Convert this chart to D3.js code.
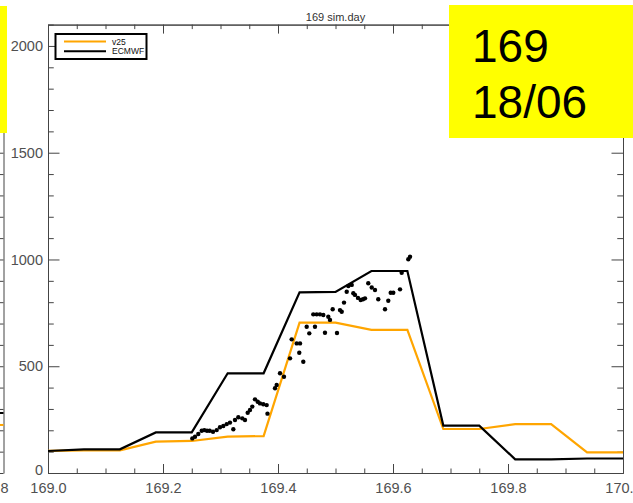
<!DOCTYPE html>
<html>
<head>
<meta charset="utf-8">
<script src="https://cdn.jsdelivr.net/npm/d3@7"></script>
<style>
  body { margin: 0; background: #fff; }
  svg { display: block; }
  text { font-family: "Liberation Sans", Arial, sans-serif; }
</style>
</head>
<body>
<svg id="chart" width="633" height="503"></svg>
<script>
// Day of year and date shown in the badge
const simDay = "169";
const dateLabel = "18/06";
const titleText = "169 sim.day";

// Model output times (fraction of day, 1.5 h steps)
const stepTimes = [169.0, 169.0625, 169.125, 169.1875, 169.25, 169.3125, 169.375, 169.4375,
                   169.5, 169.5625, 169.625, 169.6875, 169.75, 169.8125, 169.875, 169.9375, 170.0];
const v25Values   = [104, 106, 106, 147, 150, 170, 173, 704, 704, 670, 670, 206, 206, 229, 229, 97, 97];
const ecmwfValues = [103, 111, 111, 190, 190, 467, 467, 846, 848, 946, 946, 222, 222, 64, 64, 68, 68];

// Observed values
const obsTimes = [169.2510,169.2557,169.2614,169.2673,169.2718,169.2765,169.2812,169.2870,169.2934,169.2991,
                  169.3049,169.3108,169.3165,169.3223,169.3252,169.3310,169.3379,169.3426,169.3473,169.3513,
                  169.3553,169.3600,169.3647,169.3687,169.3744,169.3803,169.3817,169.3948,169.3977,169.4035,
                  169.4104,169.4209,169.4238,169.4325,169.4370,169.4383,169.4440,169.4499,169.4544,169.4614,
                  169.4643,169.4673,169.4730,169.4788,169.4817,169.4875,169.4904,169.4951,169.5026,169.5078,
                  169.5108,169.5148,169.5195,169.5223,169.5282,169.5310,169.5339,169.5391,169.5438,169.5478,
                  169.5513,169.5570,169.5630,169.5687,169.5744,169.5861,169.5918,169.5960,169.6005,169.6122,
                  169.6151,169.6266,169.6296];
const obsValues = [162,170,183,198,201,198,198,193,201,214,
                   220,229,236,205,248,261,256,248,282,295,
                   311,345,334,326,322,318,278,397,412,467,
                   451,537,626,607,563,607,521,685,654,743,
                   685,743,743,740,657,732,717,767,656,763,
                   755,798,849,876,881,842,834,820,810,814,
                   818,889,869,857,814,767,807,844,844,860,
                   938,1001,1013];

// Axis ticks
const xMajorTicks = [169.0, 169.2, 169.4, 169.6, 169.8, 170.0];
const xMinorTicks = [169.05, 169.1, 169.15, 169.25, 169.3, 169.35, 169.45, 169.5, 169.55,
                     169.65, 169.7, 169.75, 169.85, 169.9, 169.95];
const yMajorTicks = [0, 500, 1000, 1500, 2000];
const yMinorTicks = [100, 200, 300, 400, 600, 700, 800, 900, 1100, 1200, 1300, 1400,
                     1600, 1700, 1800, 1900, 2100];

// Legend entries
const legendNames = ["v25", "ECMWF"];
const legendColors = ["#FFA500", "#000000"];

// Edge of the previous day's panel, partly in view on the left
const prevPanelLineEnds = [281, 225];
const prevPanelColors = ["#000000", "#FFA500"];
const prevPanelLabel = "8";

const svg = d3.select("#chart");
const W = 633, H = 503;
const m = { left: 48, right: 623, top: 24.6, bottom: 473 };

const x = d3.scaleLinear().domain([169, 170]).range([m.left, m.right]);
const y = d3.scaleLinear().domain([0, 2100]).range([m.bottom, m.top]);

const axisColor = "#444";
const labelColor = "#505050";

function styleAxis(g) {
  g.selectAll("path, line").attr("stroke", axisColor).attr("stroke-width", 1);
  g.selectAll("text").attr("fill", labelColor).attr("font-size", 14.5)
    .attr("font-family", "'Liberation Sans', Arial, sans-serif");
}

// Previous panel: right frame line with inward ticks, and its line ends
const prev = svg.append("g");
prev.append("g")
  .attr("transform", "translate(3.5,0)")
  .call(d3.axisLeft(y).tickValues(d3.merge([yMajorTicks, yMinorTicks])).tickSize(4).tickSizeOuter(0).tickFormat(""))
  .call(styleAxis);
prev.selectAll("line.pend")
  .data(prevPanelLineEnds)
  .join("line")
  .attr("x1", 0).attr("x2", 3.5)
  .attr("y1", d => y(d)).attr("y2", d => y(d))
  .attr("stroke", (d, i) => prevPanelColors[i]).attr("stroke-width", 2);
prev.append("text")
  .attr("x", 8.5).attr("y", 493.3)
  .attr("text-anchor", "end")
  .attr("font-size", 14.5).attr("fill", labelColor)
  .text(prevPanelLabel);
prev.append("rect")
  .attr("x", 0).attr("y", 6).attr("width", 7).attr("height", 127)
  .attr("fill", "#FFFF00");

// Axes: major and minor ticks on all four sides, pointing inward
const gx = svg.append("g").attr("transform", `translate(0,${m.bottom})`);
gx.call(d3.axisBottom(x).tickValues(xMajorTicks).tickSize(-9).tickSizeOuter(0)
  .tickPadding(10).tickFormat(d3.format(".1f")))
  .call(styleAxis);
gx.append("g").call(d3.axisBottom(x).tickValues(xMinorTicks).tickSize(-4.5).tickSizeOuter(0).tickFormat(""))
  .call(styleAxis);

const gt = svg.append("g").attr("transform", `translate(0,${m.top})`);
gt.call(d3.axisTop(x).tickValues(xMajorTicks).tickSize(-9).tickSizeOuter(0).tickFormat(""))
  .call(styleAxis);
gt.append("g").call(d3.axisTop(x).tickValues(xMinorTicks).tickSize(-4.5).tickSizeOuter(0).tickFormat(""))
  .call(styleAxis);

const gy = svg.append("g").attr("transform", `translate(${m.left},0)`);
gy.call(d3.axisLeft(y).tickValues(yMajorTicks).tickSize(-11.5).tickSizeOuter(0).tickPadding(5).tickFormat(d3.format("d")))
  .call(styleAxis);
gy.selectAll(".tick text").filter(d => d === 0).attr("dy", "0.1em");
gy.append("g").call(d3.axisLeft(y).tickValues(yMinorTicks).tickSize(-5.75).tickSizeOuter(0).tickFormat(""))
  .call(styleAxis);

const gr = svg.append("g").attr("transform", `translate(${m.right},0)`);
gr.call(d3.axisRight(y).tickValues(yMajorTicks).tickSize(-11.5).tickSizeOuter(0).tickFormat(""))
  .call(styleAxis);
gr.append("g").call(d3.axisRight(y).tickValues(yMinorTicks).tickSize(-5.75).tickSizeOuter(0).tickFormat(""))
  .call(styleAxis);

// Title
svg.append("text")
  .attr("x", (m.left + m.right) / 2).attr("y", 20.5)
  .attr("text-anchor", "middle")
  .attr("font-size", 11).attr("fill", "#333")
  .text(titleText);

// Model lines
const line = d3.line().x(d => x(d[0])).y(d => y(d[1]));
const series = [
  { values: v25Values, color: "#FFA500" },
  { values: ecmwfValues, color: "#000000" }
];
svg.append("g").selectAll("path")
  .data(series)
  .join("path")
  .attr("d", s => line(stepTimes.map((t, i) => [t, s.values[i]])))
  .attr("fill", "none")
  .attr("stroke", s => s.color)
  .attr("stroke-width", 2.2)
  .attr("stroke-linejoin", "miter");

// Observations
svg.append("g").selectAll("circle")
  .data(obsTimes.map((t, i) => [t, obsValues[i]]))
  .join("circle")
  .attr("cx", d => x(d[0]))
  .attr("cy", d => y(d[1]))
  .attr("r", 2.2)
  .attr("fill", "#000");

// Legend
const lg = svg.append("g");
lg.append("rect")
  .attr("x", 55.5).attr("y", 34).attr("width", 91).attr("height", 25)
  .attr("fill", "#fff").attr("stroke", "#000").attr("stroke-width", 2);
legendNames.forEach((name, i) => {
  const ly = 41.5 + i * 9.7;
  lg.append("line")
    .attr("x1", 64).attr("x2", 106).attr("y1", ly).attr("y2", ly)
    .attr("stroke", legendColors[i]).attr("stroke-width", 2);
  lg.append("text")
    .attr("x", 112).attr("y", ly + 3)
    .attr("font-size", 8.5).attr("fill", "#111")
    .text(name);
});

// Day badge
const badge = svg.append("g");
badge.append("rect")
  .attr("x", 449).attr("y", 5).attr("width", W - 449).attr("height", 133)
  .attr("fill", "#FFFF00");
badge.append("text")
  .attr("x", 472).attr("y", 62)
  .attr("font-size", 46).attr("fill", "#000")
  .text(simDay);
badge.append("text")
  .attr("x", 472).attr("y", 118)
  .attr("font-size", 46).attr("fill", "#000")
  .text(dateLabel);
</script>
</body>
</html>
